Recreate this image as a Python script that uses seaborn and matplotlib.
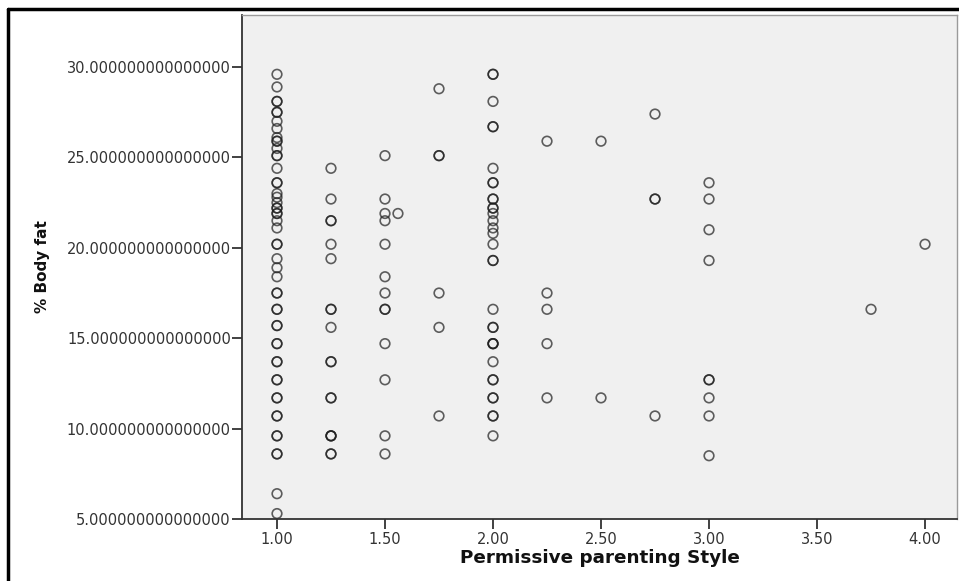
import numpy as np
import pandas as pd
import matplotlib
matplotlib.use("Agg")
import matplotlib.pyplot as plt
from matplotlib.lines import Line2D
from matplotlib.ticker import FuncFormatter
import seaborn as sns

# Permissive parenting style levels and the % body fat values seen at each
style_levels = [1.00, 1.25, 1.50, 1.56, 1.75, 2.00, 2.25, 2.50, 2.75, 3.00, 3.75, 4.00]
fat_100 = [29.6, 28.9, 28.1, 28.1, 27.5, 27.5, 27.0, 26.6, 26.1, 25.9, 25.9, 25.5,
           25.1, 25.1, 24.4, 23.6, 23.6, 23.0, 22.8, 22.5, 22.2, 22.2, 21.9, 21.9,
           21.5, 21.1, 20.2, 20.2, 19.4, 18.9, 18.4, 17.5, 17.5, 16.6, 16.6, 15.7,
           15.7, 14.7, 14.7, 13.7, 13.7, 12.7, 12.7, 11.7, 11.7, 10.7, 10.7, 9.6,
           9.6, 8.6, 8.6, 6.4, 5.3]
fat_125 = [24.4, 22.7, 21.5, 21.5, 20.2, 19.4, 16.6, 16.6, 15.6, 13.7, 13.7,
           11.7, 11.7, 9.6, 9.6, 9.6, 8.6, 8.6]
fat_150 = [25.1, 22.7, 21.9, 21.5, 20.2, 18.4, 17.5, 16.6, 16.6, 14.7, 12.7, 9.6, 8.6]
fat_156 = [21.9]
fat_175 = [28.8, 25.1, 25.1, 17.5, 15.6, 10.7]
fat_200 = [29.6, 29.6, 28.1, 26.7, 26.7, 24.4, 23.6, 23.6, 22.7, 22.7, 22.2, 22.2,
           21.9, 21.5, 21.1, 20.8, 20.2, 19.3, 19.3, 16.6, 15.6, 15.6, 14.7, 14.7,
           14.7, 13.7, 12.7, 12.7, 11.7, 11.7, 10.7, 10.7, 9.6]
fat_225 = [25.9, 17.5, 16.6, 14.7, 11.7]
fat_250 = [25.9, 11.7]
fat_275 = [27.4, 22.7, 22.7, 10.7]
fat_300 = [23.6, 22.7, 21.0, 19.3, 12.7, 12.7, 11.7, 10.7, 8.5]
fat_375 = [16.6]
fat_400 = [20.2]

fat_groups = [fat_100, fat_125, fat_150, fat_156, fat_175, fat_200,
              fat_225, fat_250, fat_275, fat_300, fat_375, fat_400]

x_ticks = [1.0, 1.5, 2.0, 2.5, 3.0, 3.5, 4.0]
y_ticks = [5, 10, 15, 20, 25, 30]

df = pd.DataFrame({
    "style": np.concatenate([[lvl] * len(g) for lvl, g in zip(style_levels, fat_groups)]),
    "fat": np.concatenate(fat_groups),
})

sns.set_style("white")
plt.rcParams["font.family"] = ["DejaVu Sans"]

fig = plt.figure(figsize=(9.59, 5.81), dpi=100)
ax = fig.add_axes([242 / 959, 1 - 519 / 581, (957 - 242) / 959, (519 - 15) / 581])
ax.set_facecolor("#f0f0f0")

sns.scatterplot(data=df, x="style", y="fat", ax=ax, marker="o", s=48,
                facecolor="none", edgecolor="#1e1e1e", linewidth=1.2, alpha=0.7)

ax.set_xlim(0.838, 4.148)
ax.set_ylim(5.0, 32.88)
ax.set_xticks(x_ticks)
ax.set_yticks(y_ticks)
ax.xaxis.set_major_formatter(FuncFormatter(lambda v, p: f"{v:.2f}"))
ax.yaxis.set_major_formatter(FuncFormatter(lambda v, p: f"{v:.15f}"))
ax.tick_params(axis="both", which="major", direction="out", length=7, width=1.3,
               color="#333333", labelcolor="#333333", labelsize=10.5, pad=1,
               left=True, bottom=True)
ax.tick_params(axis="x", pad=2)

for side in ["left", "bottom"]:
    ax.spines[side].set_color("#333333")
    ax.spines[side].set_linewidth(1.3)
for side in ["top", "right"]:
    ax.spines[side].set_color("#9a9a9a")
    ax.spines[side].set_linewidth(1.0)

ax.set_xlabel("Permissive parenting Style", fontsize=13.2, fontweight="bold", color="#111111")
ax.set_ylabel("% Body fat", fontsize=11, fontweight="bold", color="#111111")
ax.xaxis.set_label_coords(0.5, -0.06)
ax.yaxis.set_label_coords(-0.268, 0.5)

# black outer frame of the exported image
fig.add_artist(Line2D([8 / 959, 8 / 959], [0, 1 - 9 / 581], transform=fig.transFigure,
                      color="black", linewidth=2.5))
fig.add_artist(Line2D([8 / 959, 1], [1 - 9 / 581, 1 - 9 / 581], transform=fig.transFigure,
                      color="black", linewidth=2.5))

fig.savefig("out.png", dpi=100)
